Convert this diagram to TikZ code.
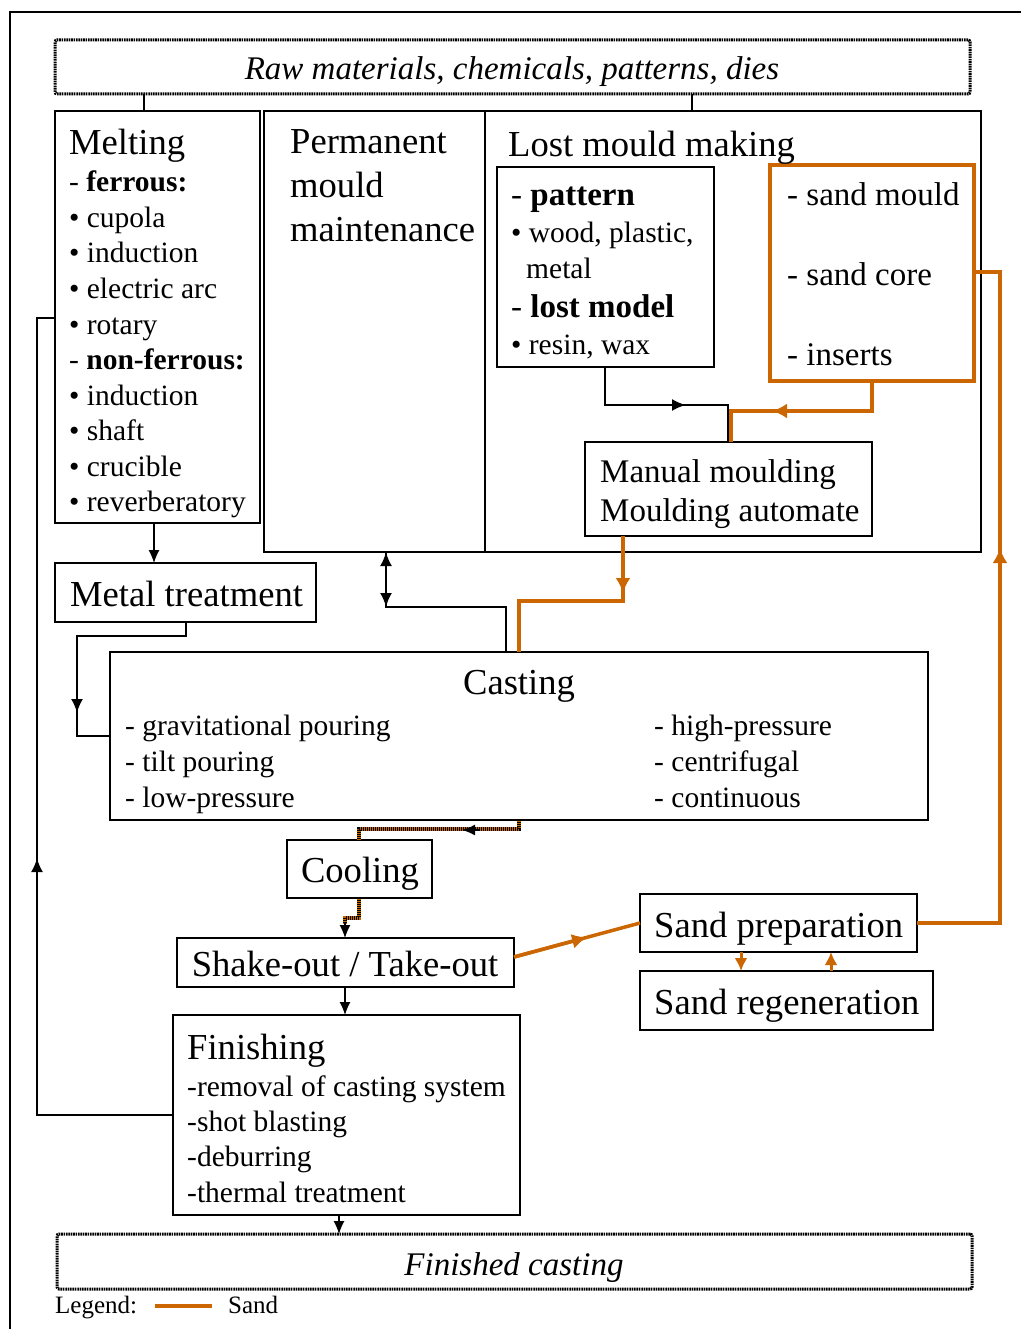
\documentclass[tikz,border=0pt]{standalone}
\usepackage{fontspec}
\setmainfont{Liberation Serif}
\usetikzlibrary{arrows.meta,calc}
\definecolor{sand}{RGB}{204,102,0}
\begin{document}
\begin{tikzpicture}[x=1pt,y=-1pt,
 box/.style={draw, line width=1.2pt, inner sep=0pt, outer sep=0pt, anchor=north west},
 dotbox/.style={draw, line width=3pt, dash pattern=on 1.6pt off 0.8pt, rounded corners=2pt, inner sep=0pt, outer sep=0pt, anchor=north west},
 sandbox/.style={draw=sand, line width=3.5pt, inner sep=0pt, outer sep=0pt, anchor=north west},
 txt/.style={anchor=base west, inner sep=0pt},
 ctxt/.style={anchor=base, inner sep=0pt},
 hd/.style={font=\fontsize{36.6}{44}\selectfont},
 md/.style={font=\fontsize{33}{40}\selectfont},
 sm/.style={font=\fontsize{29.5}{35}\selectfont},
 lg/.style={font=\fontsize{25}{30}\selectfont},
 conn/.style={line width=1.2pt},
 thickarr/.style={line width=2.2pt,-{Latex[length=14pt 0,width=12pt 0]}},
 blkarr/.style={-{Latex[length=13pt 0,width=11pt 0]}},
 sandc/.style={draw=sand, line width=3.5pt},
 sandarr/.style={-{Latex[length=15pt 0,width=15pt 0]}},
 stripe/.style={draw=black, line width=3.5pt, dash pattern=on 1pt off 1pt}
]
\useasboundingbox (0,0) rectangle (1021,1329);
\fill[white] (0,0) rectangle (1021,1329);
% frame
\draw[line width=2.5pt] (10,1329) -- (10,12) -- (1021,12);

% boxes
\node[dotbox, minimum width=915pt, minimum height=54pt] (raw) at (55,40) {};
\node[box, minimum width=205pt, minimum height=412pt] (melt) at (55,111) {};
\node[box, minimum width=221pt, minimum height=441pt] (perm) at (264,111) {};
\node[box, minimum width=496pt, minimum height=441pt] (lost) at (485,111) {};
\node[box, minimum width=217pt, minimum height=200pt] (pat) at (497,167) {};
\node[sandbox, minimum width=204pt, minimum height=216pt] (sandm) at (770,165) {};
\node[box, minimum width=287pt, minimum height=94pt] (manual) at (585,442) {};
\node[box, minimum width=261pt, minimum height=59pt] (treat) at (55,563) {};
\node[box, minimum width=818pt, minimum height=168pt] (cast) at (110,652) {};
\node[box, minimum width=145pt, minimum height=58pt] (cool) at (287,840) {};
\node[box, minimum width=337pt, minimum height=49pt] (shake) at (177,938) {};
\node[box, minimum width=277pt, minimum height=58pt] (prep) at (640,894) {};
\node[box, minimum width=293pt, minimum height=59pt] (regen) at (640,971) {};
\node[box, minimum width=347pt, minimum height=200pt] (fin) at (173,1015) {};
\node[dotbox, minimum width=915pt, minimum height=55pt] (done) at (57,1234) {};

% texts
\node[ctxt, font=\fontsize{33}{40}\selectfont\itshape] (rawt) at (512,80) {Raw materials, chemicals, patterns, dies};
\node[ctxt, font=\fontsize{33}{40}\selectfont\itshape] (donet) at (514,1275) {Finished casting};

\node[txt,hd] (m0) at (69,155) {Melting};
\node[txt,sm] (m1) at (69,192) {- \textbf{ferrous:}};
\node[txt,sm] (m2) at (69,227.5) {• cupola};
\node[txt,sm] (m3) at (69,263) {• induction};
\node[txt,sm] (m4) at (69,298.5) {• electric arc};
\node[txt,sm] (m5) at (69,334) {• rotary};
\node[txt,sm] (m6) at (69,369.5) {- \textbf{non-ferrous:}};
\node[txt,sm] (m7) at (69,405) {• induction};
\node[txt,sm] (m8) at (69,440.5) {• shaft};
\node[txt,sm] (m9) at (69,476) {• crucible};
\node[txt,sm] (m10) at (69,511.5) {• reverberatory};

\node[txt,hd] (p1) at (290,154) {Permanent};
\node[txt,hd] (p2) at (290,198) {mould};
\node[txt,hd] (p3) at (290,242) {maintenance};

\node[txt,hd] (l1) at (508,157) {Lost mould making};
\node[txt,md] (pa1) at (511,206) {- \textbf{pattern}};
\node[txt,sm] (pa2) at (511,243) {• wood, plastic,};
\node[txt,sm] (pa3) at (526,279) {metal};
\node[txt,md] (pa4) at (511,317) {- \textbf{lost model}};
\node[txt,sm] (pa5) at (511,354) {• resin, wax};

\node[txt,md] (s1) at (787,206) {- sand mould};
\node[txt,md] (s2) at (787,286) {- sand core};
\node[txt,md] (s3) at (787,365) {- inserts};

\node[txt,md] (mm1) at (600,482) {Manual moulding};
\node[txt,md] (mm2) at (600,521) {Moulding automate};

\node[txt,hd] (tt) at (70,606) {Metal treatment};

\node[ctxt,hd] (c0) at (519,694) {Casting};
\node[txt,sm] (c1) at (125,735) {- gravitational pouring};
\node[txt,sm] (c2) at (125,771) {- tilt pouring};
\node[txt,sm] (c3) at (125,807) {- low-pressure};
\node[txt,sm] (c4) at (654,735) {- high-pressure};
\node[txt,sm] (c5) at (654,771) {- centrifugal};
\node[txt,sm] (c6) at (654,807) {- continuous};

\node[ctxt,hd] (coolt) at (360,882) {Cooling};
\node[ctxt,hd] (shaket) at (345,976) {Shake-out / Take-out};
\node[txt,hd] (prept) at (654,937) {Sand preparation};
\node[txt,hd] (regent) at (654,1014) {Sand regeneration};

\node[txt,hd] (f0) at (187,1059) {Finishing};
\node[txt,sm] (f1) at (187,1096) {-removal of casting system};
\node[txt,sm] (f2) at (187,1131) {-shot blasting};
\node[txt,sm] (f3) at (187,1166) {-deburring};
\node[txt,sm] (f4) at (187,1202) {-thermal treatment};

% legend
\node[txt,lg] (leg) at (55,1313) {Legend:};
\coordinate (lga) at (155,1306);
\coordinate (lgb) at (212,1306);
\draw[sandc] (lga) -- (lgb);
\node[txt,lg] (legs) at (228,1313) {Sand};

% black connectors
\draw[conn] (raw.south -| 144,0) -- (melt.north -| 144,0);
\draw[conn] (raw.south -| 692,0) -- (lost.north -| 692,0);
\draw[conn,blkarr] (melt.south -| 154,0) -- (treat.north -| 154,0);
\draw[conn] (treat.south -| 186,0) -- (186,636) -- (77,636) -- (77,736) -- (cast.west |- 0,736);
\draw[thickarr] (77,668) -- (77,713);
\draw[conn] (perm.south -| 386,0) -- (386,607) -- (506,607) -- (cast.north -| 506,0);
\draw[line width=2.2pt,{Latex[length=14pt 0,width=12pt 0]}-{Latex[length=14pt 0,width=12pt 0]}] (perm.south -| 386,0) -- (386,607);
\draw[conn] (pat.south -| 605,0) -- (605,405) -- (728,405) -- (manual.north -| 728,0);
\draw[thickarr] (640,405) -- (686,405);
\draw[conn] (fin.west |- 0,1115) -- (37,1115) -- (37,318) -- (melt.west |- 0,318);
\draw[thickarr] (37,937) -- (37,858);
\draw[conn,blkarr] (shake.south -| 345,0) -- (fin.north -| 345,0);
\draw[conn,blkarr] (fin.south -| 339,0) -- (done.north -| 339,0);

% sand connectors
\draw[sandc] (sandm.south -| 872,0) -- (872,411) -- (731,411) -- (731,442);
\draw[sandc,sandarr] (811,411) -- (772,411);
\draw[sandc] (manual.south -| 623,0) -- (623,601) -- (519,601) -- (cast.north -| 519,0);
\draw[sandc,sandarr] (623,560) -- (623,593);
\draw[sandc] (prep.east) -- (1000,923) -- (1000,272) -- (sandm.east |- 0,272);
\draw[sandc,sandarr] (1000,640) -- (1000,548);
\draw[sandc] (shake.east |- 0,957) -- (prep.west |- 0,923);
\draw[sandc,sandarr] (shake.east |- 0,957) -- ($(shake.east |- 0,957)!0.58!(prep.west |- 0,923)$);
\draw[sandc,line width=3pt,-{Latex[length=13pt 0,width=13pt 0]}] (prep.south -| 741,0) -- (regen.north -| 741,0);
\draw[sandc,line width=3pt,-{Latex[length=13pt 0,width=13pt 0]}] (regen.north -| 831,0) -- (prep.south -| 831,0);

% mixed (striped) connectors
\draw[sandc] (cast.south -| 519,0) -- (519,829) -- (359,829) -- (cool.north -| 359,0);
\draw[stripe] (cast.south -| 519,0) -- (519,829) -- (359,829) -- (cool.north -| 359,0);
\draw[line width=1.5pt,-{Latex[length=13pt 0,width=11pt 0]}] (480,830) -- (462,830);
\draw[sandc] (cool.south -| 359,0) -- (359,918) -- (345,918) -- (345,924);
\draw[stripe] (cool.south -| 359,0) -- (359,918) -- (345,918) -- (345,924);
\draw[conn,blkarr] (345,922) -- (shake.north -| 345,0);
\end{tikzpicture}
\end{document}
